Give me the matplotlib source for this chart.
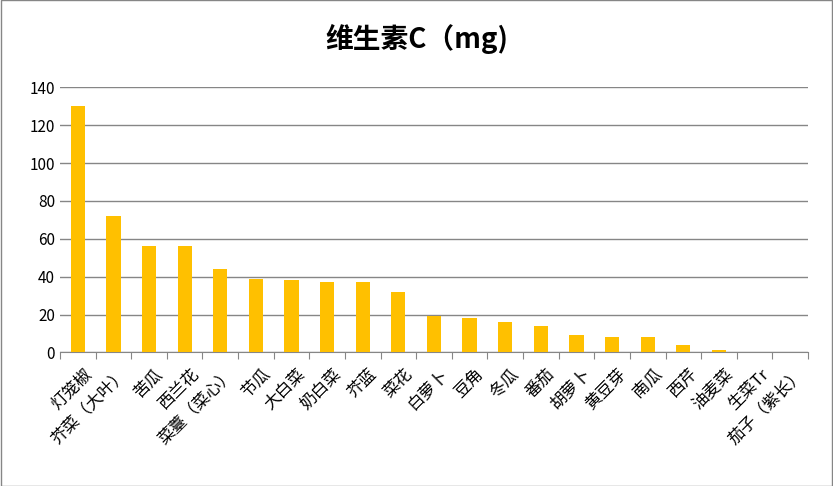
import matplotlib
matplotlib.use("Agg")
import matplotlib.pyplot as plt

plt.rcParams['font.family'] = ['Noto Sans CJK SC', 'DejaVu Sans']

categories = ["灯笼椒", "芥菜（大叶）", "苦瓜", "西兰花", "菜薹（菜心）", "节瓜", "大白菜", "奶白菜", "芥蓝", "菜花",
              "白萝卜", "豆角", "冬瓜", "番茄", "胡萝卜", "黄豆芽", "南瓜", "西芹", "油麦菜", "生菜Tr", "茄子（紫长）"]
values = [130, 72, 56, 56, 44, 39, 38, 37, 37, 32, 19, 18, 16, 14, 9, 8, 8, 4, 1.5, 0, 0]

fig = plt.figure(figsize=(8.33, 4.86), dpi=100)
ax = fig.add_axes([0.072, 0.275, 0.898, 0.545])
x = list(range(len(categories)))
ax.bar(x, values, width=0.4, color='#FFC000', zorder=3)
ax.set_xlim(-0.5, len(categories) - 0.5)
ax.set_ylim(0, 140)
ax.set_yticks(range(0, 141, 20))
ax.grid(axis='y', color='#868686', linewidth=1, zorder=0)
for s in ['top', 'right', 'left']:
    ax.spines[s].set_visible(False)
ax.spines['bottom'].set_color('#868686')
ax.tick_params(axis='y', length=0, labelsize=11)
ax.set_xticks([i - 0.5 for i in x] + [len(categories) - 0.5], minor=False)
ax.set_xticklabels([])
ax.tick_params(axis='x', length=5, color='#868686')
for i, c in enumerate(categories):
    ax.text(i + 0.15, -7, c, rotation=45, ha='right', va='top', fontsize=12,
            rotation_mode='anchor', transform=ax.transData)
fig.text(0.5, 0.92, "维生素C（mg)", ha='center', va='center', fontsize=20, fontweight='bold')
fig.patches.append(plt.Rectangle((0.001, 0.001), 0.998, 0.998, transform=fig.transFigure,
                                 fill=False, edgecolor='#868686', linewidth=1))
fig.savefig("out.png", dpi=100)
